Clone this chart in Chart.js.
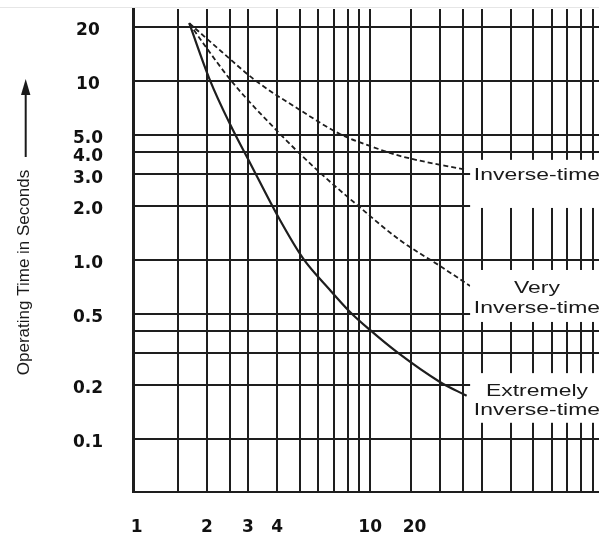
<!DOCTYPE html>
<html><head><meta charset="utf-8">
<script src="https://cdn.jsdelivr.net/npm/chart.js@4.4.1/dist/chart.umd.min.js"></script>
<style>html,body{margin:0;padding:0;background:#fff;overflow:hidden}</style>
</head><body>
<canvas id="c" width="599" height="536"></canvas>
<script>
// ---- data ----
const xGridValues = [1.5,2,2.5,3,4,5,6,7,8,9,10,15,20,25,30,40,50,60,70,80,90];
const xTickValues = [1,2,3,4,10,15.5];
const xTickLabels = ['1','2','3','4','10','20'];
const yGridValues = [0.1,0.2,0.3,0.4,0.5,1,2,3,4,5,10,20];
const yTickValues = [0.1,0.2,0.5,1,2,3,4,5,10,20];
const yTickLabels = ['0.1','0.2','0.5','1.0','2.0','3.0','4.0','5.0','10','20'];

const inverseX = [1.68, 2.32, 3.21, 5.0, 7.42, 9.98, 13.4, 25.9];
const inverseY = [21.0, 14.5, 10.1, 6.88, 5.05, 4.33, 3.81, 3.18];
const veryX = [1.68, 1.93, 2.56, 4.07, 5.92, 8.78, 13.4, 19.9, 26.8];
const veryY = [21.0, 16.2, 9.9, 5.12, 3.18, 2.03, 1.29, 0.925, 0.715];
const extremeX = [1.68, 2.06, 2.51, 3.06, 4.11, 5.16, 6.73, 8.20, 9.98, 13.0, 19.9, 25.9];
const extremeY = [21.0, 10.1, 5.74, 3.48, 1.67, 1.02, 0.679, 0.512, 0.406, 0.306, 0.208, 0.174];

const curveLabels = [
  {lines:['Inverse-time'], lineY:[2.98], boxTop:3.62, boxBottom:1.95},
  {lines:['Very','Inverse-time'], lineY:[0.697,0.539], boxTop:0.878, boxBottom:0.45},
  {lines:['Extremely','Inverse-time'], lineY:[0.184,0.145], boxTop:0.233, boxBottom:0.123}
];
const labelBoxLeftX = 26.8;
const labelCenterX = 51.8;
const yTitle = 'Operating Time in Seconds';

// ---- helpers ----
const toPts = (xs, ys) => xs.map((x,i) => ({x, y: ys[i]}));
const INK = '#1e1e1e';
const xAllTicks = [...new Set([...xGridValues, ...xTickValues])].sort((a,b)=>a-b);
const yAllTicks = [...new Set([...yGridValues, ...yTickValues])].sort((a,b)=>a-b);

const overlay = {
  id: 'overlay',
  beforeDraw(chart) {
    const ctx = chart.ctx;
    ctx.save();
    ctx.strokeStyle = '#e6e6e6';
    ctx.lineWidth = 1;
    ctx.beginPath(); ctx.moveTo(0, 7.5); ctx.lineTo(chart.width, 7.5); ctx.stroke();
    ctx.restore();
  },
  afterDatasetsDraw(chart) {
    const ctx = chart.ctx, xs = chart.scales.x, ys = chart.scales.y;
    ctx.save();
    const left = xs.getPixelForValue(labelBoxLeftX);
    const cx = xs.getPixelForValue(labelCenterX);
    curveLabels.forEach(l => {
      const t = ys.getPixelForValue(l.boxTop), b = ys.getPixelForValue(l.boxBottom);
      ctx.fillStyle = '#fff';
      ctx.fillRect(left, t, chart.width - left, b - t);
      ctx.fillStyle = '#1a1a1a';
      ctx.font = '17px "Liberation Sans", Arial, sans-serif';
      ctx.textAlign = 'center';
      ctx.textBaseline = 'middle';
      l.lines.forEach((txt, i) => {
        ctx.save();
        ctx.translate(cx, ys.getPixelForValue(l.lineY[i]));
        ctx.scale(1.35, 1);
        ctx.fillText(txt, 0, 0);
        ctx.restore();
      });
    });
    ctx.restore();
  },
  afterDraw(chart) {
    const ctx = chart.ctx;
    ctx.save();
    ctx.fillStyle = '#1a1a1a';
    ctx.translate(24.5, 272.5);
    ctx.rotate(-Math.PI/2);
    ctx.font = '17px "Liberation Sans", Arial, sans-serif';
    ctx.textAlign = 'center';
    ctx.textBaseline = 'middle';
    ctx.fillText(yTitle, 0, 0);
    ctx.restore();
    ctx.save();
    ctx.strokeStyle = '#1a1a1a';
    ctx.fillStyle = '#1a1a1a';
    ctx.lineWidth = 2;
    ctx.beginPath(); ctx.moveTo(25.7, 157); ctx.lineTo(25.7, 92); ctx.stroke();
    ctx.beginPath(); ctx.moveTo(25.7, 79); ctx.lineTo(21, 95); ctx.lineTo(30.4, 95); ctx.closePath(); ctx.fill();
    ctx.restore();
  }
};

const lineDs = (label, pts, dash, w) => ({
  label, data: pts, borderColor: INK, borderWidth: w, borderDash: dash,
  pointRadius: 0, fill: false, tension: 0.4, cubicInterpolationMode: 'monotone'
});

new Chart(document.getElementById('c'), {
  type: 'line',
  data: {
    datasets: [
      lineDs('Inverse-time', toPts(inverseX, inverseY), [5,3], 1.8),
      lineDs('Very Inverse-time', toPts(veryX, veryY), [5,3], 1.8),
      lineDs('Extremely Inverse-time', toPts(extremeX, extremeY), [], 2.2)
    ]
  },
  options: {
    responsive: false,
    animation: false,
    devicePixelRatio: 1,
    layout: {padding: {top: 9, left: 0, right: 0, bottom: 0}},
    plugins: {legend: {display: false}, tooltip: {enabled: false}},
    scales: {
      x: {
        type: 'logarithmic', min: 0.965, max: 95.5,
        afterBuildTicks: s => { s.ticks = xAllTicks.map(v => ({value: v})); },
        afterFit: s => { s.height = 44; s.paddingLeft = 0; s.paddingRight = 0; },
        grid: {
          color: c => (c.tick && xGridValues.includes(c.tick.value)) ? INK : 'rgba(0,0,0,0)',
          lineWidth: 2, drawTicks: false
        },
        border: {display: true, color: INK, width: 2},
        ticks: {
          autoSkip: false, maxRotation: 0, minRotation: 0, padding: 25,
          color: '#111', font: {family: '"DejaVu Sans"', size: 17, weight: 'bold'},
          callback: v => { const i = xTickValues.indexOf(v); return i >= 0 ? xTickLabels[i] : ''; }
        }
      },
      y: {
        type: 'logarithmic', min: 0.0505, max: 25.2,
        afterBuildTicks: s => { s.ticks = yAllTicks.map(v => ({value: v})); },
        afterFit: s => { s.width = 133; s.paddingTop = 0; s.paddingBottom = 0; },
        grid: {
          color: c => (c.tick && yGridValues.includes(c.tick.value)) ? INK : 'rgba(0,0,0,0)',
          lineWidth: 2, drawTicks: false
        },
        border: {display: true, color: INK, width: 3},
        ticks: {
          autoSkip: false, padding: 30, crossAlign: 'center', labelOffset: 4,
          color: '#111', font: {family: '"DejaVu Sans"', size: 17, weight: 'bold'},
          callback: v => { const i = yTickValues.indexOf(v); return i >= 0 ? yTickLabels[i] : ''; }
        }
      }
    }
  },
  plugins: [overlay]
});
</script>
</body></html>
